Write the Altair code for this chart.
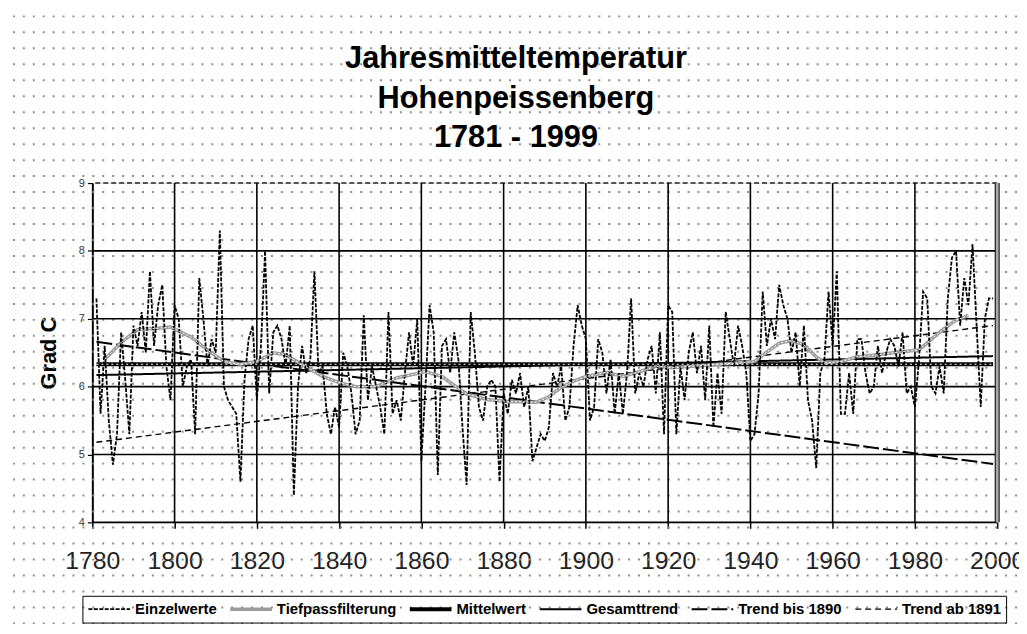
import altair as alt
import pandas as pd

FONT = "Liberation Sans"

# ---------------- data ----------------
years = list(range(1781, 2000))
einzelwerte = [
    7.3, 5.6, 6.6, 5.5, 4.85, 5.3, 6.8, 6.1, 5.3, 6.9,
    6.6, 7.1, 6.5, 7.7, 6.6, 7.2, 7.5, 6.3, 5.8, 7.2,
    7.0, 6.0, 6.3, 6.4, 5.3, 7.6, 7.0, 6.3, 6.7, 6.5,
    8.3, 6.0, 5.8, 5.7, 5.6, 4.6, 6.1, 6.7, 6.9, 5.8,
    6.6, 8.0, 5.9, 6.8, 6.9, 6.7, 6.3, 6.9, 4.4, 6.0,
    6.6, 6.2, 6.4, 7.7, 6.2, 6.3, 5.6, 5.3, 5.7, 5.4,
    6.5, 6.3, 5.9, 5.3, 5.5, 7.05, 5.8, 6.3, 6.0, 5.7,
    5.3, 7.1, 5.6, 5.8, 5.5, 6.2, 6.8, 6.3, 7.0, 4.9,
    6.0, 7.2, 6.8, 4.7, 6.6, 6.7, 6.2, 6.8, 6.4, 5.4,
    4.55, 7.1, 6.5, 5.7, 5.5, 6.0, 6.1, 6.0, 4.6, 5.9,
    5.6, 6.1, 5.9, 6.2, 5.7, 6.0, 4.9, 5.1, 5.3, 5.2,
    5.4, 6.2, 6.0, 6.3, 5.5, 5.7, 6.6, 7.2, 6.9, 6.7,
    5.5, 5.7, 6.7, 6.5, 5.9, 6.4, 5.6, 6.2, 5.6, 6.2,
    7.3, 5.9, 6.2, 6.0, 6.4, 6.6, 5.9, 6.8, 5.3, 7.2,
    7.1, 5.3, 6.3, 5.8, 6.5, 6.8, 6.2, 6.6, 5.8, 6.9,
    5.4, 6.2, 5.6, 7.1, 6.7, 6.3, 6.9, 6.6, 6.2, 5.2,
    5.3, 5.9, 7.4, 6.6, 7.0, 6.7, 7.5, 7.2, 7.0, 6.5,
    6.8, 6.0, 6.9, 5.8, 5.5, 4.8, 6.2, 6.4, 7.4, 6.6,
    7.7, 5.6, 5.6, 6.2, 5.6, 6.7, 6.7, 6.2, 5.9, 6.0,
    6.6, 6.2, 6.5, 6.7, 6.6, 6.3, 6.8, 5.9, 6.0, 5.7,
    6.4, 7.4, 7.3, 6.0, 5.9, 6.3, 5.9, 7.3, 7.9, 8.0,
    6.9, 7.6, 7.2, 8.1, 6.9, 5.7, 7.0, 7.3, 7.3,
]

tp_years = [1783, 1787, 1791, 1796, 1799, 1804, 1808, 1812, 1816, 1820,
            1824, 1827, 1830, 1836, 1840, 1844, 1849, 1854, 1861, 1865,
            1871, 1876, 1881, 1888, 1891, 1894, 1897, 1900, 1905, 1909,
            1913, 1917, 1921, 1926, 1930, 1937, 1941, 1944, 1947, 1950,
            1953, 1956, 1958, 1962, 1966, 1971, 1976, 1981, 1984, 1987,
            1990, 1993]
tp_values = [6.40, 6.65, 6.84, 6.86, 6.88, 6.73, 6.54, 6.37, 6.33, 6.37,
             6.50, 6.47, 6.36, 6.15, 6.06, 6.00, 6.00, 6.13, 6.22, 6.15,
             5.89, 5.81, 5.78, 5.77, 5.85, 5.99, 6.08, 6.15, 6.21, 6.15,
             6.22, 6.30, 6.28, 6.30, 6.32, 6.35, 6.37, 6.51, 6.64, 6.68,
             6.62, 6.44, 6.35, 6.37, 6.44, 6.47, 6.51, 6.54, 6.70, 6.85,
             6.98, 7.05]

trend_years = [1781, 1999]
mittelwert = [6.33, 6.33]
gesamttrend = [6.17, 6.45]
trend_bis_1890 = [6.66, 4.86]
trend_ab_1891 = [5.18, 6.90]

series_names = ["Einzelwerte", "Tiefpassfilterung", "Mittelwert",
                "Gesamttrend", "Trend bis 1890", "Trend ab 1891"]
title_lines = ["Jahresmitteltemperatur", "Hohenpeissenberg", "1781 - 1999"]
x_ticks = list(range(1780, 2001, 20))
y_ticks = [4, 5, 6, 7, 8, 9]
grid_x = x_ticks[1:-1]
grid_y = y_ticks[:-1]
top_y = [9]
right_x = [2000]
bg_rows = list(range(40))   # decorative dotted background rows

# ---------------- layout ----------------
W, H = 912, 342
PX_PER_DEG = H / 5.0
ROW_STEP = 16.1          # px between dotted background rows
ROW_START = -168         # first row, relative to plot top (px)
bg_values = [9 - (ROW_START + ROW_STEP * k) / PX_PER_DEG for k in bg_rows]

# ---------------- tables ----------------
rows = []
for nm, vals in [("Trend ab 1891", trend_ab_1891), ("Trend bis 1890", trend_bis_1890),
                 ("Gesamttrend", gesamttrend), ("Mittelwert", mittelwert)]:
    for yr, v in zip(trend_years, vals):
        rows.append({"year": yr, "value": v, "series": nm})
for yr, v in zip(tp_years, tp_values):
    rows.append({"year": yr, "value": v, "series": "Tiefpassfilterung"})
for yr, v in zip(years, einzelwerte):
    rows.append({"year": yr, "value": v, "series": "Einzelwerte"})
df = pd.DataFrame(rows)

xscale = alt.Scale(domain=[1780, 2000], nice=False, zero=False)
yscale = alt.Scale(domain=[4, 9], nice=False, zero=False)

x_axis = alt.Axis(values=x_ticks, format="d", grid=False, domain=False,
                  tickColor="black", tickWidth=1.5, tickSize=6,
                  labelFont=FONT, labelFontSize=25, labelColor="#222222",
                  labelPadding=21, labelFlush=False, labelOverlap=False, title=None)
y_axis = alt.Axis(values=y_ticks, format="d", grid=False, domain=True,
                  domainColor="black", domainWidth=2,
                  tickColor="black", tickWidth=1.2, tickSize=5,
                  labelFont=FONT, labelFontSize=11, labelColor="#333333",
                  labelPadding=3, labelFlush=False,
                  title="Grad C", titleFont=FONT, titleFontSize=22, titleFontWeight="bold",
                  titleColor="black", titleX=-44, titleY=H / 2, titleAngle=270,
                  titleBaseline="middle", titleAlign="center")

X = alt.X("year:Q", scale=xscale, axis=x_axis)
Y = alt.Y("value:Q", scale=yscale, axis=y_axis)

bg = alt.Chart(pd.DataFrame({"value": bg_values})).mark_rule(
    color="#8c8c8c", strokeWidth=2, strokeDash=[2, 8]
).encode(y=Y, x=alt.value(-100), x2=alt.value(W + 40))

hgrid = alt.Chart(pd.DataFrame({"value": grid_y})).mark_rule(
    color="black", strokeWidth=1.6).encode(y=Y)
topline = alt.Chart(pd.DataFrame({"value": top_y})).mark_rule(
    color="#555555", strokeWidth=2, strokeDash=[5, 3]).encode(y=Y)
vgrid = alt.Chart(pd.DataFrame({"year": grid_x})).mark_rule(
    color="black", strokeWidth=1.6).encode(x=X)
right_outer = alt.Chart(pd.DataFrame({"year": right_x})).mark_rule(
    color="black", strokeWidth=5).encode(x=X)
right_inner = alt.Chart(pd.DataFrame({"year": right_x})).mark_rule(
    color="#a8a8a8", strokeWidth=3).encode(x=X)

legend = alt.Legend(title=None, orient="none", legendX=-10, legendY=416,
                    direction="horizontal", columns=6, symbolType="stroke",
                    symbolSize=1764, clipHeight=19, symbolOffset=0,
                    labelFont=FONT, labelFontSize=15, labelFontWeight="bold",
                    labelColor="black", labelOffset=3, columnPadding=11,
                    padding=4, strokeColor="black", labelLimit=300)

colors = ["black", "#9a9a9a", "black", "black", "black", "black"]
dashes = [[4, 1.5], [1, 0], [1, 0], [1, 0], [16, 4], [6, 4]]
widths = [1.8, 3.5, 4, 2, 2, 1.4]

main = alt.Chart(df).mark_line().encode(
    x=X, y=Y,
    color=alt.Color("series:N", scale=alt.Scale(domain=series_names, range=colors), legend=legend),
    strokeDash=alt.StrokeDash("series:N", scale=alt.Scale(domain=series_names, range=dashes), legend=legend),
    strokeWidth=alt.StrokeWidth("series:N", scale=alt.Scale(type="ordinal", domain=series_names, range=widths),
                                legend=legend),
)

tp_df = pd.DataFrame({"year": tp_years, "value": tp_values})
tp_overlay = alt.Chart(tp_df).mark_line(color="white", strokeWidth=1, strokeDash=[2, 2]).encode(x=X, y=Y)

mw_df = pd.DataFrame({"year": trend_years, "value": mittelwert})
mw_overlay = alt.Chart(mw_df).mark_line(color="white", strokeWidth=1.2, strokeDash=[2, 3]).encode(x=X, y=Y)

title = alt.Chart(pd.DataFrame({"t": [0]})).mark_text(
    text=title_lines, font=FONT, fontSize=31, fontWeight="bold", color="black",
    align="center", baseline="alphabetic", lineHeight=40
).encode(x=alt.value(427), y=alt.value(-116))

chart = alt.layer(bg, hgrid, topline, vgrid, right_outer, right_inner, main,
                  tp_overlay, mw_overlay, title).properties(
    width=W, height=H,
    autosize=alt.AutoSizeParams(type="none"),
    padding={"left": 85, "top": 174, "right": 22, "bottom": 100},
).configure_view(stroke=None).configure(background="white")

chart.save("out.html", embed_options={"renderer": "svg", "actions": False})
